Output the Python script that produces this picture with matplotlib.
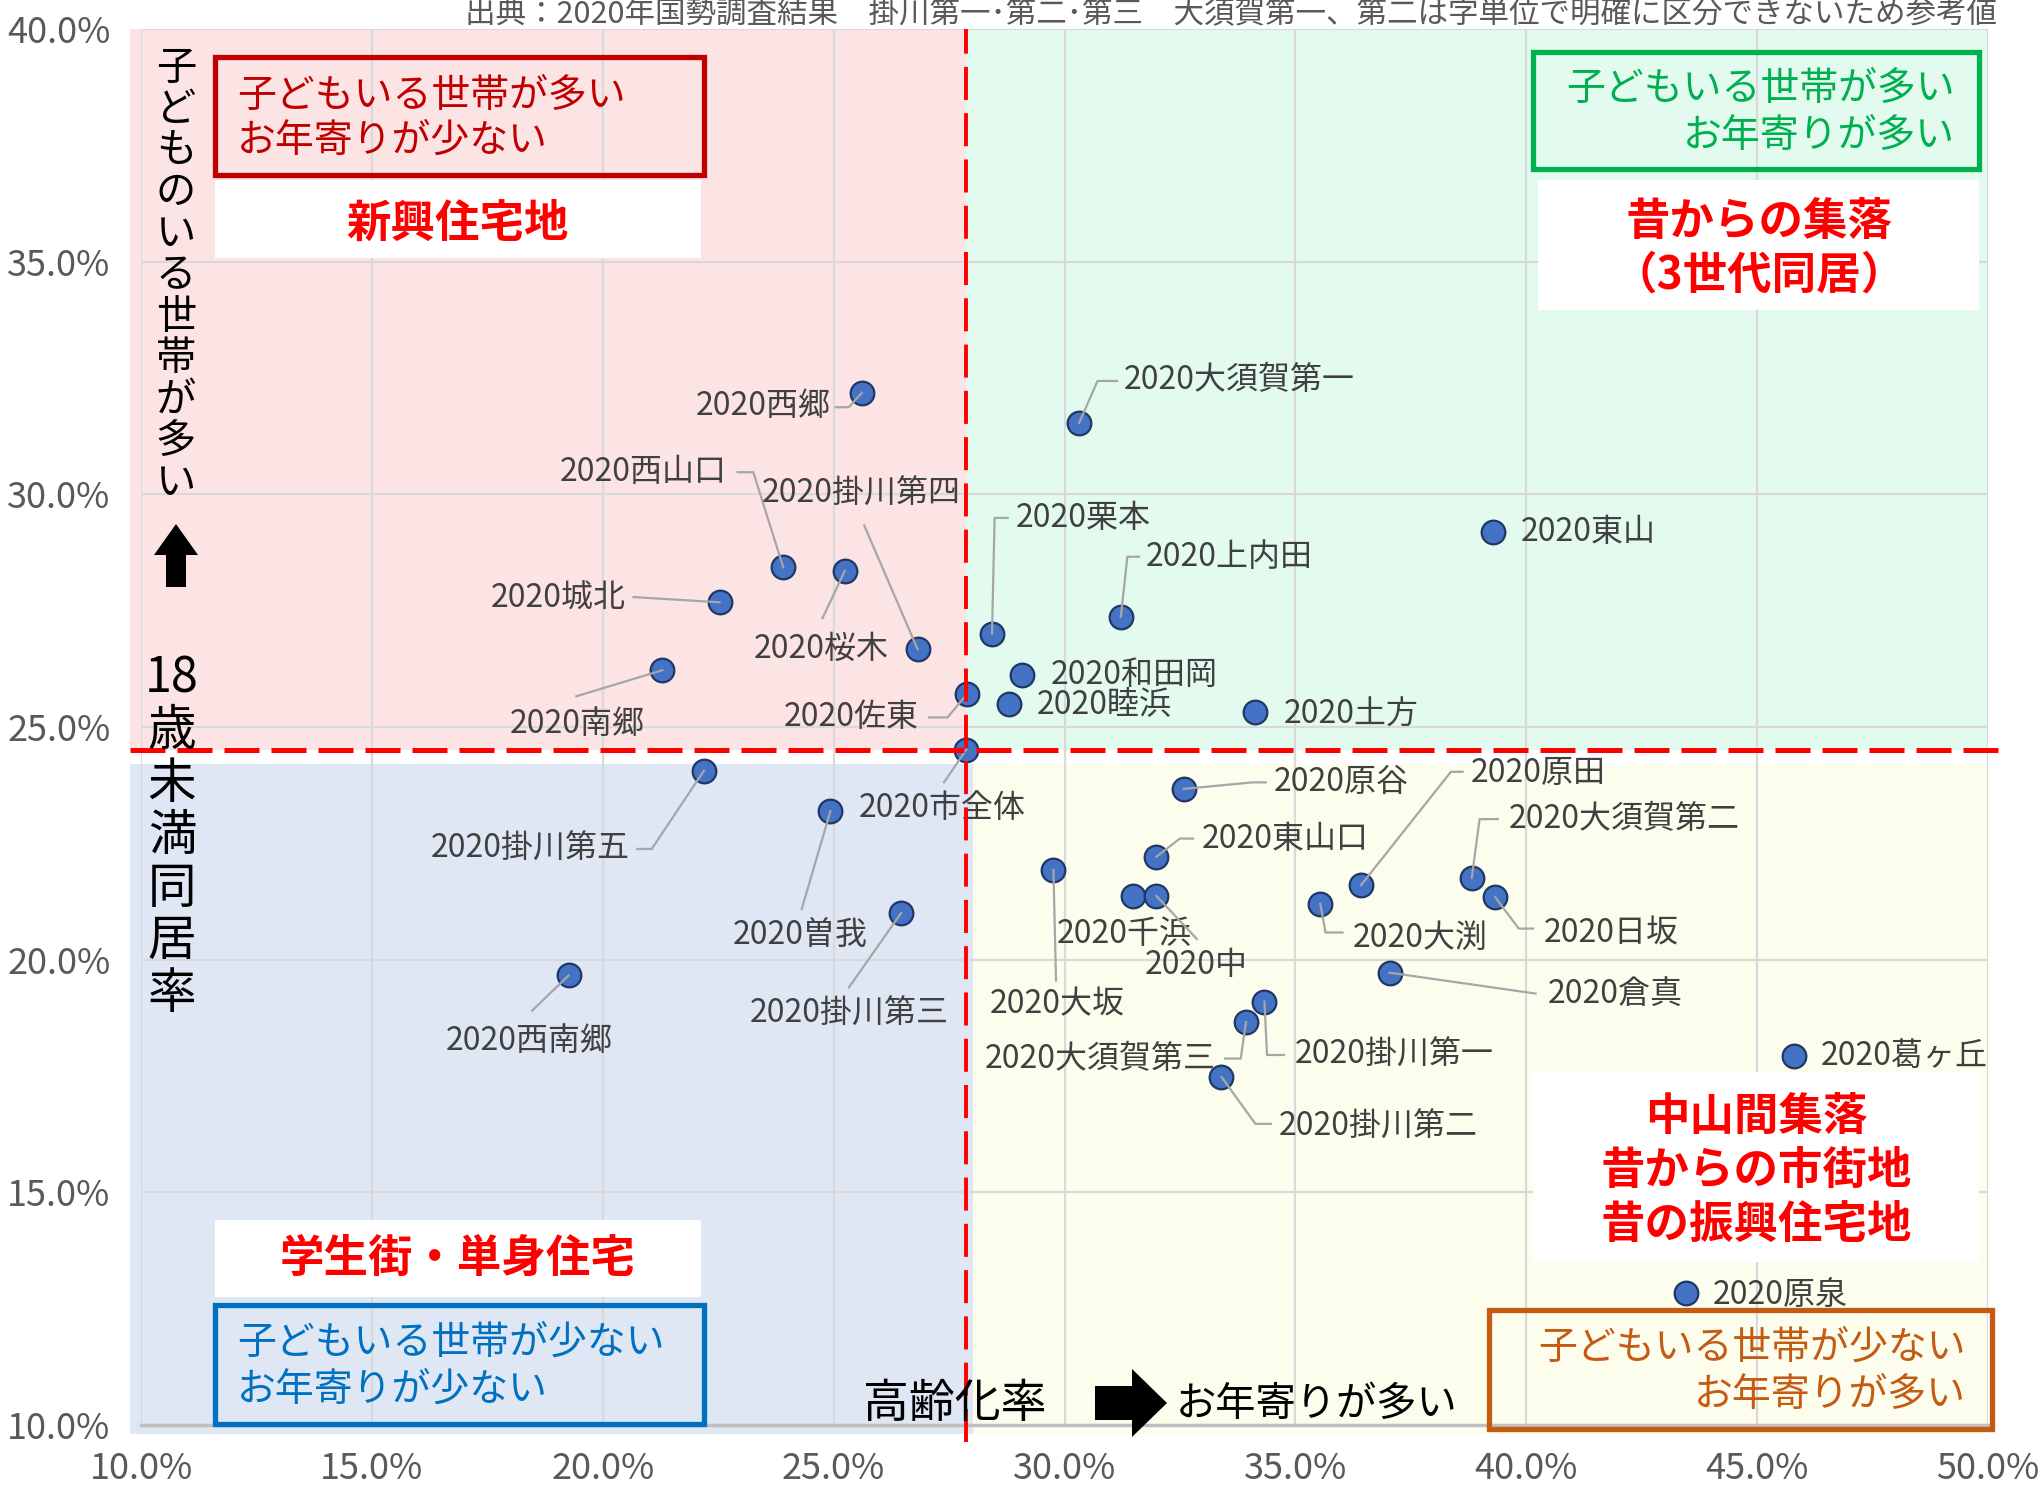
import matplotlib
matplotlib.use('Agg')
import matplotlib.pyplot as plt
import matplotlib.ticker as mtick
from matplotlib.patches import Rectangle, Polygon
from matplotlib.transforms import ScaledTranslation

plt.rcParams['font.family'] = ['Noto Sans CJK JP', 'DejaVu Sans']

# ── データ（高齢化率 / 18歳未満同居率, %） ─────────────────────
AREAS = ['2020西郷', '2020大須賀第一', '2020東山', '2020西山口', '2020桜木',
         '2020城北', '2020上内田', '2020栗本', '2020掛川第四', '2020南郷',
         '2020和田岡', '2020佐東', '2020睦浜', '2020土方', '2020市全体',
         '2020掛川第五', '2020原谷', '2020曽我', '2020東山口', '2020大坂',
         '2020原田', '2020大須賀第二', '2020中', '2020千浜', '2020日坂',
         '2020大渕', '2020掛川第三', '2020倉真', '2020西南郷', '2020掛川第一',
         '2020大須賀第三', '2020葛ヶ丘', '2020掛川第二', '2020原泉']
AGING = [25.61, 30.32, 39.27, 23.91, 25.24,
         22.53, 31.22, 28.43, 26.82, 21.29,
         29.08, 27.89, 28.80, 34.13, 27.87,
         22.19, 32.58, 24.93, 31.99, 29.76,
         36.42, 38.82, 31.48, 31.99, 39.33,
         35.54, 26.46, 37.04, 19.26, 34.33,
         33.93, 45.79, 33.40, 43.45]
UNDER18 = [32.18, 31.54, 29.19, 28.43, 28.35,
           27.68, 27.37, 27.00, 26.67, 26.22,
           26.11, 25.71, 25.49, 25.32, 24.51,
           24.06, 23.67, 23.19, 22.21, 21.93,
           21.60, 21.76, 21.37, 21.37, 21.34,
           21.20, 21.00, 19.72, 19.66, 19.10,
           18.66, 17.93, 17.48, 12.83]
CITY = '2020市全体'

X_TICKS = [10, 15, 20, 25, 30, 35, 40, 45, 50]
Y_TICKS = [10, 15, 20, 25, 30, 35, 40]

TITLE = '出典：2020年国勢調査結果　掛川第一･第二･第三　大須賀第一、第二は字単位で明確に区分できないため参考値'

# ラベル配置（プレビュー画素でのオフセット dx, dy(下向き), 揃え, 引出線の頂点）
LABELS = {
    '2020西郷':       (-24, 10, 'right', [(-10, 11), (-20, 11)]),
    '2020大須賀第一': (34, -33, 'left', [(14, -32), (29, -32)]),
    '2020東山':       (22, 0, 'left', None),
    '2020西山口':     (-43, -73, 'right', [(-23, -73), (-35, -73)]),
    '2020掛川第四':   (-43, -119, 'center', [(-41, -95)]),
    '2020栗本':       (18, -89, 'left', [(2, -89), (12, -89)]),
    '2020上内田':     (19, -46, 'left', [(5, -46), (14, -46)]),
    '2020城北':       (-72, -3, 'right', [(-66, -4)]),
    '2020桜木':       (-18, 60, 'center', [(-17, 36)]),
    '2020南郷':       (-65, 41, 'center', [(-66, 20)]),
    '2020和田岡':     (22, 0, 'left', None),
    '2020睦浜':       (21, 1, 'left', None),
    '2020土方':       (22, 1, 'left', None),
    '2020佐東':       (-37, 18, 'right', [(-15, 18), (-29, 18)]),
    '2020市全体':     (-18, 45, 'center', [(-17, 25)]),
    '2020掛川第五':   (-57, 60, 'right', [(-40, 60), (-51, 60)]),
    '2020原谷':       (69, -5, 'left', [(53, -5), (63, -5)]),
    '2020曽我':       (-23, 96, 'center', [(-22, 75)]),
    '2020東山口':     (35, -14, 'left', [(18, -14), (28, -14)]),
    '2020大坂':       (3, 103, 'center', [(2, 85)]),
    '2020原田':       (84, -86, 'left', [(69, -87), (78, -87)]),
    '2020大須賀第二': (28, -45, 'left', [(6, -45), (20, -45)]),
    '2020千浜':       (-25, 29, 'center', [(31, 33)]),
    '2020中':         (49, 53, 'center', None),
    '2020日坂':       (37, 28, 'left', [(18, 24), (29, 24)]),
    '2020大渕':       (25, 26, 'left', [(4, 22), (17, 22)]),
    '2020掛川第三':   (-40, 77, 'center', [(-40, 57)]),
    '2020倉真':       (121, 16, 'left', [(112, 16)]),
    '2020西南郷':     (-30, 50, 'center', [(-28, 27)]),
    '2020掛川第一':   (23, 41, 'left', [(2, 41), (15, 41)]),
    '2020大須賀第三': (-23, 28, 'right', [(-4, 28), (-16, 28)]),
    '2020葛ヶ丘':     (21, 0, 'left', None),
    '2020掛川第二':   (44, 38, 'left', [(26, 36), (38, 36)]),
    '2020原泉':       (21, 1, 'left', None),
}

W, H = 2044, 1490
K = W / 1568 / 100          # プレビュー画素 → インチ


def fx(px):
    return px / W


def fy(py):
    return 1 - py / H


fig = plt.figure(figsize=(W / 100, H / 100), dpi=100)
ax = fig.add_axes([fx(141), fy(1425), (1988 - 141) / W, (1425 - 29) / H])
ax.set_xlim(10, 50)
ax.set_ylim(10, 40)

ci = AREAS.index(CITY)
cx, cy = AGING[ci], UNDER18[ci]

# ── 4象限の背景 ───────────────────────────────────────────
x0, y0 = 9.77, 9.8
for (qx, qy, qw, qh, col) in [
        (x0, cy, cx - x0, 40 - cy, '#fde4e4'),
        (cx, cy, 50 - cx, 40 - cy, '#e3fbef'),
        (x0, y0, cx - x0 + 0.15, cy - y0 - 0.3, '#dfe6f4'),
        (cx + 0.15, y0, 50 - cx - 0.15, cy - y0 - 0.3, '#fdfdee')]:
    ax.add_patch(Rectangle((qx, qy), qw, qh, fc=col, ec='none',
                           zorder=0, clip_on=False))

ax.set_xticks(X_TICKS)
ax.set_yticks(Y_TICKS)
ax.xaxis.set_major_formatter(mtick.FuncFormatter(lambda v, _: f'{v:.1f}%'))
ax.yaxis.set_major_formatter(mtick.FuncFormatter(lambda v, _: f'{v:.1f}%'))
ax.tick_params(length=0, labelsize=26, labelcolor='#595959')
ax.tick_params(axis='x', pad=19)
ax.tick_params(axis='y', pad=22)
ax.set_axisbelow(True)
ax.grid(color='#d9d9d9', lw=1.6)
for s in ['top', 'left', 'right']:
    ax.spines[s].set_visible(False)
ax.spines['bottom'].set_color('#bfbfbf')
ax.spines['bottom'].set_linewidth(2.5)
ax.set_facecolor('white')

# ── 散布図 ────────────────────────────────────────────────
ax.scatter(AGING, UNDER18, s=290, c='#4472c4', edgecolors='#1f3864',
           linewidths=1.6, zorder=4)

for name, x, y in zip(AREAS, AGING, UNDER18):
    dx, dy, ha, leader = LABELS[name]
    tr = fig.dpi_scale_trans + ScaledTranslation(x, y, ax.transData)
    ax.text(dx * K, -dy * K, name, transform=tr, ha=ha, va='center',
            fontsize=23, color='#404040', zorder=5)
    if leader:
        lx = [0] + [p[0] * K for p in leader]
        ly = [0] + [-p[1] * K for p in leader]
        ax.plot(lx, ly, transform=tr, color='#a6a6a6', lw=1.6, zorder=5)

# 市全体の基準線
ax.axhline(cy, xmin=-0.006, xmax=1.006, color='#ff0000', lw=3.6,
           ls=(0, (7, 2.4)), zorder=6, clip_on=False)
ax.axvline(cx, ymin=-0.012, ymax=1.0, color='#ff0000', lw=2.8,
           ls=(0, (8.5, 3.4)), zorder=6, clip_on=False)

# ── 象限の説明ボックス ──────────────────────────────────────
def box(x0, y0, x1, y1, fc='white', ec='none', lw=0):
    fig.add_artist(Rectangle((fx(x0), fy(y1)), (x1 - x0) / W, (y1 - y0) / H,
                             transform=fig.transFigure, fc=fc, ec=ec, lw=lw,
                             zorder=10))


def ftext(x, y, s, **kw):
    fig.text(fx(x), fy(y), s, va='center', zorder=11, **kw)


# 左上
box(215, 57, 704, 175, fc='none', ec='#c00000', lw=3.8)
ftext(237, 96, '子どもいる世帯が多い', fontsize=28, color='#c00000')
ftext(237, 141, 'お年寄りが少ない', fontsize=28, color='#c00000')
box(215, 180, 701, 258)
ftext(458, 224, '新興住宅地', fontsize=32, color='#ff0000',
      fontweight='bold', ha='center')

# 右上
box(1533, 52, 1979, 169, fc='none', ec='#00b050', lw=3.8)
ftext(1955, 89, '子どもいる世帯が多い', fontsize=28, color='#00b050', ha='right')
ftext(1955, 136, 'お年寄りが多い', fontsize=28, color='#00b050', ha='right')
box(1538, 180, 1979, 310)
ftext(1759, 222, '昔からの集落', fontsize=32, color='#ff0000',
      fontweight='bold', ha='center')
ftext(1759, 276, '（3世代同居）', fontsize=32, color='#ff0000',
      fontweight='bold', ha='center')

# 左下
box(215, 1220, 701, 1297)
ftext(458, 1259, '学生街・単身住宅', fontsize=32, color='#ff0000',
      fontweight='bold', ha='center')
box(215, 1305, 704, 1424, fc='none', ec='#0070c0', lw=3.8)
ftext(237, 1343, '子どもいる世帯が少ない', fontsize=28, color='#0070c0')
ftext(237, 1390, 'お年寄りが少ない', fontsize=28, color='#0070c0')

# 右下
box(1533, 1072, 1979, 1262)
for yy, s in zip([1117, 1171, 1225], ['中山間集落', '昔からの市街地', '昔の振興住宅地']):
    ftext(1756, yy, s, fontsize=32, color='#ff0000', fontweight='bold', ha='center')
box(1489, 1310, 1992, 1429, fc='none', ec='#c55a11', lw=3.8)
ftext(1966, 1348, '子どもいる世帯が少ない', fontsize=28, color='#c55a11', ha='right')
ftext(1966, 1395, 'お年寄りが多い', fontsize=28, color='#c55a11', ha='right')

# ── 軸ラベル（縦書き・矢印） ────────────────────────────────
for i, ch in enumerate('子どものいる世帯が多い'):
    ftext(176, 68 + i * 41.5, ch, fontsize=29, color='black', ha='center')
fig.add_artist(Polygon([(fx(176), fy(524)), (fx(154), fy(555)), (fx(166), fy(555)),
                        (fx(166), fy(587)), (fx(186), fy(587)), (fx(186), fy(555)),
                        (fx(198), fy(555))], closed=True,
                       transform=fig.transFigure, fc='black', ec='none', zorder=11))
for i, ch in enumerate(['18', '歳', '未', '満', '同', '居', '率']):
    ftext(172, 679 + i * 52.5, ch, fontsize=35, color='black', ha='center')

ftext(955, 1404, '高齢化率', fontsize=33, color='black', ha='center')
fig.add_artist(Polygon([(fx(1095), fy(1386)), (fx(1132), fy(1386)), (fx(1132), fy(1369)),
                        (fx(1167), fy(1403)), (fx(1132), fy(1437)), (fx(1132), fy(1420)),
                        (fx(1095), fy(1420))], closed=True,
                       transform=fig.transFigure, fc='black', ec='none', zorder=11))
ftext(1176, 1404, 'お年寄りが多い', fontsize=29, color='black', ha='left')

ftext(1997, 14, TITLE, fontsize=22, color='#595959', ha='right')

fig.savefig('out.png', dpi=100)
